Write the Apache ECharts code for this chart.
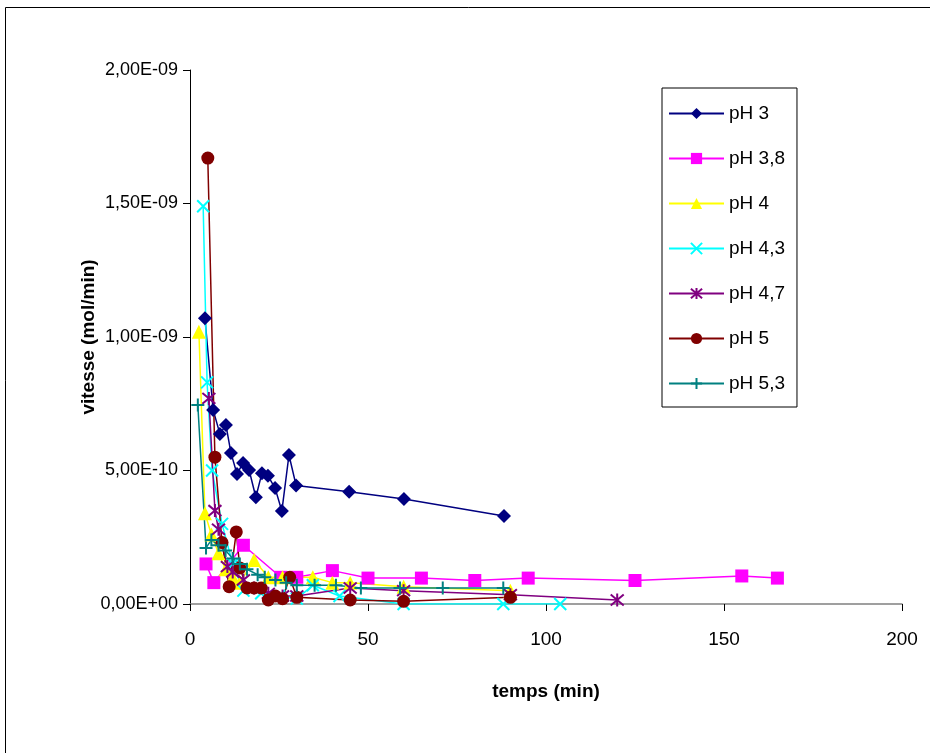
<!DOCTYPE html>
<html><head><meta charset="utf-8">
<script src="https://cdn.jsdelivr.net/npm/echarts@6/dist/echarts.min.js"></script>
<style>html,body{margin:0;padding:0;background:#fff}#c{width:930px;height:753px}</style>
</head><body><div id="c"></div>
<script>
// time (min) and rate (mol/min) per series
const t_pH3   = [4.2, 6.5, 8.4, 10.1, 11.5, 13.2, 14.9, 16.6, 18.5, 20.2, 21.9, 23.9, 25.8, 27.8, 29.8, 44.7, 60.1, 88.2];
const v_pH3   = [1.07e-9, 7.27e-10, 6.37e-10, 6.7e-10, 5.66e-10, 4.87e-10, 5.28e-10, 5.02e-10, 4.0e-10, 4.9e-10, 4.8e-10, 4.34e-10, 3.48e-10, 5.58e-10, 4.44e-10, 4.2e-10, 3.93e-10, 3.3e-10];
const t_pH38  = [4.5, 6.7, 15, 25.5, 30, 40, 50, 65, 80, 95, 125, 155, 165];
const v_pH38  = [1.5e-10, 8.0e-11, 2.2e-10, 1.0e-10, 1.0e-10, 1.25e-10, 9.7e-11, 9.7e-11, 8.8e-11, 9.7e-11, 8.8e-11, 1.05e-10, 9.7e-11];
const t_pH4   = [2.5, 4.2, 6, 8, 10, 12, 14, 18, 22, 26, 34.5, 40, 45, 60, 90];
const v_pH4   = [1.02e-9, 3.4e-10, 2.6e-10, 1.9e-10, 1.3e-10, 1.0e-10, 8.0e-11, 1.65e-10, 1.0e-10, 1.0e-10, 1.0e-10, 8.0e-11, 8.0e-11, 6.5e-11, 5.0e-11];
const t_pH43  = [3.7, 4.8, 6.2, 9, 12, 15, 20, 25, 30, 34.5, 42, 60, 88, 104];
const v_pH43  = [1.49e-9, 8.3e-10, 5.0e-10, 3.0e-10, 1.5e-10, 5.0e-11, 4.0e-11, 3.0e-11, 2.0e-11, 7.0e-11, 3.0e-11, 0, 0, 0];
const t_pH47  = [5.3, 7, 8, 10.5, 12, 15, 18, 22, 26, 30, 45, 60, 90, 120];
const v_pH47  = [7.7e-10, 3.5e-10, 2.8e-10, 1.4e-10, 1.2e-10, 9.0e-11, 6.0e-11, 4.0e-11, 3.0e-11, 3.0e-11, 6.0e-11, 5.0e-11, 3.5e-11, 1.5e-11];
const t_pH5   = [5, 7, 9, 11, 13, 14, 16, 18, 20, 22, 24, 26, 28, 30, 45, 60, 90];
const v_pH5   = [1.67e-9, 5.5e-10, 2.3e-10, 6.5e-11, 2.7e-10, 1.35e-10, 6.0e-11, 6.0e-11, 6.0e-11, 1.5e-11, 3.0e-11, 2.0e-11, 1.0e-10, 2.5e-11, 1.5e-11, 1.0e-11, 2.5e-11];
const t_pH53  = [2.2, 4.5, 6, 8, 10, 12, 14, 16, 19, 21, 24, 27, 30, 35, 41, 48, 59, 71, 88];
const v_pH53  = [7.45e-10, 2.1e-10, 2.4e-10, 2.2e-10, 2.0e-10, 1.7e-10, 1.5e-10, 1.3e-10, 1.1e-10, 1.0e-10, 9.0e-11, 8.0e-11, 7.0e-11, 7.0e-11, 7.0e-11, 6.0e-11, 6.0e-11, 6.0e-11, 6.0e-11];

const xTicks = [0, 50, 100, 150, 200];
const yTicks = ['0,00E+00', '5,00E-10', '1,00E-09', '1,50E-09', '2,00E-09'];

function fmtY(v){
  const idx = Math.round(v / 5e-10);
  return yTicks[idx] !== undefined ? yTicks[idx] : '';
}
function pairs(t, v){ return t.map((x,i)=>[x, v[i]]); }

const XSYM = 'path://M0,0L10,10M10,0L0,10';
const ASTSYM = 'path://M0,0L10,10M10,0L0,10M5,-1L5,11';
const PLUSSYM = 'path://M5,0L5,10M0,5L10,5';

const defs = [
  {name:'pH 3',   t:t_pH3,  v:v_pH3,  color:'#000080', symbol:'diamond',  size:14, stroke:false},
  {name:'pH 3,8', t:t_pH38, v:v_pH38, color:'#FF00FF', symbol:'rect',     size:13, stroke:false},
  {name:'pH 4',   t:t_pH4,  v:v_pH4,  color:'#FFFF00', symbol:'triangle', size:14, stroke:false},
  {name:'pH 4,3', t:t_pH43, v:v_pH43, color:'#00FFFF', symbol:XSYM,       size:12, stroke:true},
  {name:'pH 4,7', t:t_pH47, v:v_pH47, color:'#800080', symbol:ASTSYM,     size:13, stroke:true},
  {name:'pH 5',   t:t_pH5,  v:v_pH5,  color:'#800000', symbol:'circle',   size:13, stroke:false},
  {name:'pH 5,3', t:t_pH53, v:v_pH53, color:'#008080', symbol:PLUSSYM,    size:13, stroke:true}
];

const series = defs.map(d => ({
  name: d.name,
  type: 'line',
  data: pairs(d.t, d.v),
  symbol: d.symbol,
  symbolSize: d.size,
  showAllSymbol: true,
  lineStyle: {color: d.color, width: 1.5},
  itemStyle: d.stroke ? {color: 'none', borderColor: d.color, borderWidth: 2}
                      : {color: d.color, borderWidth: 0},
  emphasis: {disabled: true},
  animation: false
}));

const FONT = 'Liberation Sans, Arial';
const chart = echarts.init(document.getElementById('c'), null, {renderer: 'canvas'});
chart.setOption({
  backgroundColor: '#fff',
  animation: false,
  graphic: [{type:'rect', shape:{x:5.5, y:7.5, width:930, height:760}, style:{fill:'none', stroke:'#000', lineWidth:1}, silent:true}],
  grid: {left: 190, right: 28, top: 70, bottom: 149},
  legend: {
    orient: 'vertical', left: 662, top: 88,
    itemWidth: 55, itemHeight: 14, itemGap: 26,
    padding: [16, 12, 14, 6],
    borderColor: '#000', borderWidth: 1,
    textStyle: {fontFamily: FONT, fontSize: 19, color: '#000'},
    data: defs.map(d => d.name)
  },
  xAxis: {
    type: 'value', min: 0, max: 200, interval: 50,
    name: 'temps (min)', nameLocation: 'middle', nameGap: 78, nameMoveOverlap: false,
    nameTextStyle: {fontFamily: FONT, fontWeight: 'bold', fontSize: 19, color: '#000'},
    axisLine: {onZero: false, lineStyle: {color: '#808080', width: 1.5}},
    axisTick: {show: true, length: 7, lineStyle: {color: '#000'}},
    axisLabel: {fontFamily: FONT, fontSize: 19, color: '#000', margin: 26,
      formatter: v => xTicks.indexOf(v) >= 0 ? String(v) : ''},
    splitLine: {show: false}
  },
  yAxis: {
    type: 'value', min: 0, max: 2e-9, interval: 5e-10,
    name: 'vitesse (mol/min)', nameLocation: 'middle', nameGap: 92, nameRotate: 90, nameMoveOverlap: false,
    nameTextStyle: {fontFamily: FONT, fontWeight: 'bold', fontSize: 19, color: '#000'},
    axisLine: {show: true, lineStyle: {color: '#000', width: 1}},
    axisTick: {show: true, length: 7, lineStyle: {color: '#000'}},
    axisLabel: {fontFamily: FONT, fontSize: 18, color: '#000', margin: 12, formatter: fmtY},
    splitLine: {show: false}
  },
  series: series
});
</script></body></html>
